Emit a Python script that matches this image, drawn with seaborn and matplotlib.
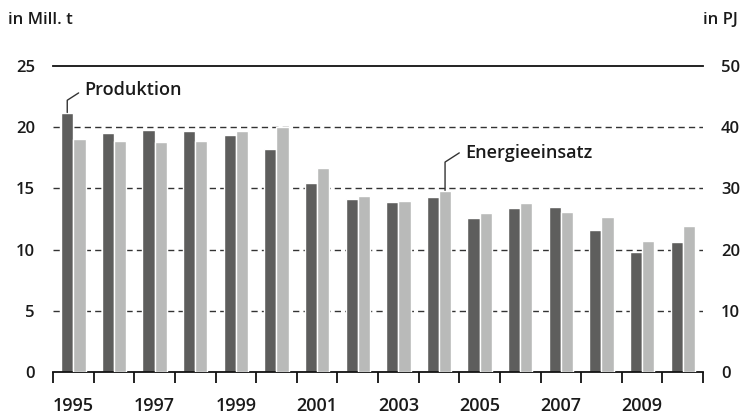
import matplotlib
matplotlib.use("Agg")
import matplotlib.pyplot as plt
import pandas as pd
import seaborn as sns

# --------------------------------------------------
# Data
# --------------------------------------------------
years = list(range(1995, 2011))
produktion_mt = [21.2, 19.5, 19.8, 19.7, 19.4, 18.2, 15.4, 14.1,
                 13.9, 14.3, 12.6, 13.4, 13.5, 11.6, 9.8, 10.6]
energie_pj = [38.0, 37.7, 37.5, 37.7, 39.4, 40.1, 33.4, 28.8,
              27.9, 29.5, 26.0, 27.6, 26.2, 25.3, 21.4, 23.8]
year_labels = [str(y) if y % 2 == 1 else "" for y in years]

series = ["Produktion", "Energieeinsatz"]
colors = {"Produktion": "#5e5e5d", "Energieeinsatz": "#b9bab9"}

prod_df = pd.DataFrame({"year": years, "value": produktion_mt,
                        "series": "Produktion"})
energy_df = pd.DataFrame({"year": years, "value": energie_pj,
                          "series": "Energieeinsatz"})

# --------------------------------------------------
# Style
# --------------------------------------------------
sns.set_style("white")
plt.rcParams["font.family"] = ["Open Sans", "DejaVu Sans"]
TXT = "#1a1a1a"

fig = plt.figure(figsize=(7.49, 4.15), dpi=100)
ax = fig.add_axes([0.0708, 0.1036, 0.8678, 0.7374])
ax2 = ax.twinx()

# --------------------------------------------------
# Bars (each series on its own axis, dodged by hue)
# --------------------------------------------------
sns.barplot(data=prod_df, x="year", y="value", hue="series",
            hue_order=series, palette=colors, width=0.6, gap=0,
            dodge=True, saturation=1, legend=False, ax=ax, zorder=3)
sns.barplot(data=energy_df, x="year", y="value", hue="series",
            hue_order=series, palette=colors, width=0.6, gap=0,
            dodge=True, saturation=1, legend=False, ax=ax2, zorder=3)

ax.set_ylim(0, 25)
ax2.set_ylim(0, 50)
ax.set_xlim(-0.5, len(years) - 0.5)

# --------------------------------------------------
# Axes / grid
# --------------------------------------------------
ax.set_yticks([0, 5, 10, 15, 20, 25])
ax2.set_yticks([0, 10, 20, 30, 40, 50])
for a in (ax, ax2):
    for s in ("left", "right", "top", "bottom"):
        a.spines[s].set_visible(False)
    a.set_xlabel("")
    a.set_ylabel("")

ax.spines["top"].set_visible(True)
ax.spines["top"].set_color("#111111")
ax.spines["top"].set_linewidth(1.3)
ax.spines["bottom"].set_visible(True)
ax.spines["bottom"].set_color("#111111")
ax.spines["bottom"].set_linewidth(1.3)
ax.spines["bottom"].set_zorder(5)

for yv in [5, 10, 15, 20]:
    ax.axhline(yv, color="#333333", lw=1.0, ls=(0, (4.5, 3)), zorder=1)

ax.tick_params(axis="y", length=0, pad=13, labelsize=12, labelcolor=TXT)
ax2.tick_params(axis="y", length=0, pad=13, labelsize=12, labelcolor=TXT)
for lab in ax.get_yticklabels() + ax2.get_yticklabels():
    lab.set_fontweight("semibold")

ax.set_xticks(range(len(years)), labels=year_labels)
ax.set_xticks([i - 0.5 for i in range(len(years) + 1)], minor=True)
ax.tick_params(axis="x", which="major", length=0, pad=18,
               labelsize=13, labelcolor=TXT)
ax.tick_params(axis="x", which="minor", bottom=True, length=8, width=1.3,
               color="#111111", direction="out")
for lab in ax.get_xticklabels():
    lab.set_fontweight("semibold")

# --------------------------------------------------
# Leader labels
# --------------------------------------------------
dark_off, light_off = -0.15, 0.15
x0 = 0 + dark_off
y0 = produktion_mt[0]
ax.plot([x0, x0, x0 + 0.28], [y0, y0 + 1.0, y0 + 1.6],
        color="#333333", lw=1.0, zorder=4)
ax.text(x0 + 0.42, y0 + 1.8, "Produktion", fontsize=13, color=TXT,
        va="center", ha="left", fontweight="semibold")

i = years.index(2004)
x1 = i + light_off
y1 = energie_pj[i] / 2  # left-axis units for positioning the label
ax.plot([x1, x1, x1 + 0.35], [y1, y1 + 2.4, y1 + 3.15],
        color="#333333", lw=1.0, zorder=4)
ax.text(x1 + 0.5, y1 + 3.15, "Energieeinsatz", fontsize=13, color=TXT,
        va="center", ha="left", fontweight="semibold")

# --------------------------------------------------
# Unit labels
# --------------------------------------------------
fig.text(8 / 749, 1 - 20 / 415, "in Mill. t", fontsize=12, color=TXT,
         va="center", ha="left", fontweight="semibold")
fig.text(738 / 749, 1 - 20 / 415, "in PJ", fontsize=12, color=TXT,
         va="center", ha="right", fontweight="semibold")

fig.savefig("out.png", dpi=100)
